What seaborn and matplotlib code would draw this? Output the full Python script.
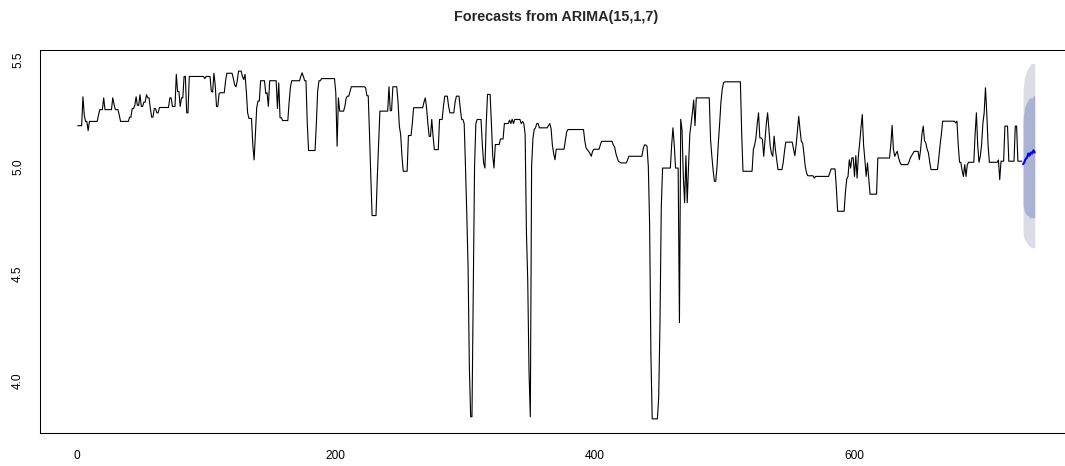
import numpy as np
import pandas as pd
import matplotlib
matplotlib.use("Agg")
import matplotlib.pyplot as plt
import seaborn as sns

# ---------------- data ----------------
title = "Forecasts from ARIMA(15,1,7)"

# observed series: value holds from each start index until the next one
seg_start = [1, 5, 6, 7, 9, 10, 17, 18, 21, 22, 28, 29, 30, 33, 34, 41, 43, 45, 46, 47,
             49, 50, 52, 54, 55, 57, 58, 60, 62, 64, 72, 74, 77, 78, 80, 81, 83, 85, 87, 99,
             100, 104, 105, 106, 107, 108, 110, 111, 115, 116, 121, 122, 123, 124, 125, 128, 129, 130, 131, 132,
             133, 136, 137, 138, 139, 140, 142, 146, 147, 148, 149, 155, 156, 157, 159, 164, 165, 166, 173, 174,
             175, 176, 178, 179, 185, 186, 187, 189, 200, 201, 202, 203, 207, 208, 209, 211, 212, 223, 224, 226,
             227, 228, 232, 233, 234, 241, 242, 244, 248, 249, 250, 251, 252, 256, 259, 260, 268, 269, 270, 271,
             272, 274, 275, 276, 280, 283, 284, 287, 288, 292, 293, 296, 297, 298, 299, 300, 301, 302, 303, 304,
             306, 307, 308, 309, 313, 314, 315, 316, 317, 320, 321, 322, 323, 327, 330, 334, 335, 336, 337, 338,
             343, 344, 345, 346, 347, 348, 349, 350, 351, 352, 353, 354, 355, 357, 364, 365, 366, 367, 368, 369,
             370, 377, 378, 379, 392, 393, 394, 395, 396, 397, 398, 399, 404, 405, 414, 415, 416, 417, 418, 419,
             420, 425, 426, 437, 438, 440, 441, 442, 443, 444, 449, 450, 451, 452, 459, 460, 461, 462, 465, 466,
             467, 468, 469, 470, 471, 472, 473, 474, 475, 476, 477, 478, 489, 490, 491, 492, 494, 495, 496, 497,
             498, 499, 500, 513, 514, 522, 523, 524, 525, 526, 527, 529, 530, 531, 532, 533, 534, 535, 536, 537,
             538, 539, 540, 541, 545, 546, 547, 553, 554, 555, 556, 557, 558, 559, 560, 561, 562, 563, 564, 569,
             570, 581, 582, 586, 587, 593, 594, 595, 596, 597, 598, 600, 601, 602, 603, 604, 605, 606, 607, 608,
             609, 610, 611, 612, 618, 628, 629, 630, 631, 632, 633, 634, 635, 636, 642, 643, 644, 645, 646, 650,
             651, 652, 653, 654, 655, 656, 657, 658, 659, 665, 666, 667, 668, 678, 679, 680, 681, 683, 684, 685,
             686, 687, 688, 693, 694, 695, 696, 697, 698, 699, 700, 701, 702, 703, 704, 711, 712, 713, 716, 719,
             724, 726]
seg_value = [5.19, 5.325, 5.24, 5.21, 5.167, 5.21, 5.24, 5.265, 5.32, 5.265, 5.32, 5.29, 5.265, 5.24, 5.21, 5.23, 5.27, 5.285, 5.325, 5.285,
             5.335, 5.28, 5.30, 5.335, 5.32, 5.27, 5.23, 5.27, 5.25, 5.275, 5.32, 5.28, 5.43, 5.35, 5.28, 5.32, 5.42, 5.25, 5.42, 5.41,
             5.42, 5.35, 5.347, 5.435, 5.38, 5.28, 5.34, 5.344, 5.40, 5.435, 5.41, 5.38, 5.372, 5.40, 5.445, 5.42, 5.406, 5.43, 5.35, 5.25,
             5.224, 5.10, 5.03, 5.15, 5.274, 5.305, 5.40, 5.34, 5.344, 5.28, 5.40, 5.27, 5.39, 5.227, 5.214, 5.30, 5.37, 5.40, 5.42, 5.437,
             5.42, 5.40, 5.20, 5.074, 5.20, 5.35, 5.40, 5.41, 5.344, 5.094, 5.32, 5.258, 5.28, 5.32, 5.328, 5.35, 5.372, 5.367, 5.33, 5.15,
             4.95, 4.77, 4.95, 5.10, 5.258, 5.372, 5.26, 5.372, 5.30, 5.187, 5.149, 5.05, 4.977, 5.144, 5.20, 5.274, 5.30, 5.32, 5.274, 5.20,
             5.14, 5.219, 5.14, 5.078, 5.219, 5.28, 5.328, 5.28, 5.25, 5.30, 5.328, 5.27, 5.22, 5.219, 5.20, 5.00, 4.78, 4.53, 4.06, 3.83,
             4.41, 5.00, 5.20, 5.219, 5.10, 5.016, 4.992, 5.20, 5.336, 5.20, 5.05, 4.992, 5.102, 5.128, 5.20, 5.216, 5.20, 5.22, 5.20, 5.219,
             5.20, 5.21, 5.20, 5.15, 4.69, 4.47, 4.04, 3.83, 5.00, 5.13, 5.172, 5.18, 5.20, 5.18, 5.19, 5.20, 5.177, 5.10, 5.06, 5.031,
             5.08, 5.12, 5.16, 5.172, 5.12, 5.086, 5.078, 5.07, 5.06, 5.047, 5.07, 5.08, 5.10, 5.117, 5.10, 5.091, 5.06, 5.04, 5.023, 5.02,
             5.016, 5.03, 5.047, 5.08, 5.10, 5.094, 5.00, 4.73, 4.12, 3.82, 3.92, 4.27, 4.81, 4.992, 5.10, 5.18, 5.10, 4.992, 4.27, 5.22,
             5.17, 4.95, 4.83, 5.05, 4.83, 5.00, 5.15, 5.20, 5.25, 5.31, 5.19, 5.32, 5.125, 5.047, 4.98, 4.93, 5.00, 5.109, 5.20, 5.30,
             5.36, 5.391, 5.395, 5.156, 4.977, 5.078, 5.10, 5.133, 5.20, 5.25, 5.133, 5.125, 5.047, 5.125, 5.20, 5.25, 5.172, 5.094, 5.06, 5.047,
             5.141, 5.078, 5.03, 4.985, 5.016, 5.07, 5.113, 5.08, 5.05, 5.10, 5.17, 5.234, 5.17, 5.117, 5.109, 5.06, 5.00, 4.97, 4.956, 4.945,
             4.953, 4.97, 4.988, 4.90, 4.79, 4.88, 4.94, 4.953, 5.031, 4.992, 5.04, 4.953, 5.05, 4.945, 5.05, 5.109, 5.18, 5.242, 5.10, 5.031,
             4.953, 5.016, 4.945, 4.87, 5.039, 5.10, 5.191, 5.08, 5.047, 5.06, 5.07, 5.04, 5.02, 5.008, 5.02, 5.039, 5.05, 5.06, 5.07, 5.031,
             5.08, 5.15, 5.188, 5.12, 5.109, 5.08, 5.063, 5.02, 4.985, 5.039, 5.10, 5.15, 5.211, 5.203, 5.211, 5.10, 5.019, 4.98, 4.953, 5.008,
             4.953, 5.008, 5.019, 5.15, 5.25, 5.10, 5.019, 5.047, 5.10, 5.20, 5.25, 5.367, 5.25, 5.10, 5.019, 5.03, 4.938, 5.024, 5.188, 5.024,
             5.188, 5.024]
n_obs = 729

# forecast horizon
fc_time = [730, 731, 732, 733, 734, 735, 736, 737, 738, 739]
fc_mean = [5.01, 5.02, 5.035, 5.04, 5.06, 5.05, 5.065, 5.06, 5.075, 5.065]
lo80 = [4.82, 4.79, 4.78, 4.77, 4.77, 4.76, 4.76, 4.76, 4.76, 4.76]
hi80 = [5.22, 5.27, 5.29, 5.30, 5.31, 5.32, 5.32, 5.32, 5.33, 5.33]
lo95 = [4.68, 4.66, 4.65, 4.64, 4.63, 4.63, 4.62, 4.62, 4.62, 4.62]
hi95 = [5.36, 5.41, 5.43, 5.45, 5.46, 5.47, 5.48, 5.48, 5.48, 5.48]

x_ticks = [0, 200, 400, 600]
y_ticks = [4.0, 4.5, 5.0, 5.5]
y_tick_labels = ["4.0", "4.5", "5.0", "5.5"]

# ---------------- build frames ----------------
lengths = np.diff(seg_start + [n_obs + 1])
obs = pd.DataFrame({"t": np.arange(1, n_obs + 1),
                    "value": np.repeat(seg_value, lengths)})
fc = pd.DataFrame({"t": fc_time, "mean": fc_mean,
                   "lo80": lo80, "hi80": hi80, "lo95": lo95, "hi95": hi95})

# ---------------- style ----------------
sns.set_style("white")
plt.rcParams["font.family"] = ["Liberation Sans", "DejaVu Sans"]

W, H = 1065, 466
fig = plt.figure(figsize=(W / 100, H / 100), dpi=100)
left, right, top, bottom = 39.5, 1073.0, 49.5, 433.0
ax = fig.add_axes([left / W, (H - bottom) / H, (right - left) / W, (bottom - top) / H])

ax.fill_between(fc["t"], fc["lo95"], fc["hi95"], color="#DCDCE5", linewidth=0)
ax.fill_between(fc["t"], fc["lo80"], fc["hi80"], color="#ACB2D4", linewidth=0)
sns.lineplot(data=obs, x="t", y="value", ax=ax, color="black", linewidth=0.8,
             estimator=None, sort=False)
sns.lineplot(data=fc, x="t", y="mean", ax=ax, color="#0000FF", linewidth=1.5,
             estimator=None, sort=False)

ax.set_xlim(-28.5, 768.5)
ax.set_ylim(3.754, 5.546)
ax.set_xticks(x_ticks)
ax.set_xticklabels([str(v) for v in x_ticks])
ax.set_yticks(y_ticks)
ax.set_yticklabels(y_tick_labels, rotation=90, va="center")
ax.set_xlabel("")
ax.set_ylabel("")
ax.tick_params(axis="both", direction="out", length=5, width=0.75,
               colors="black", labelsize=8.6)
ax.tick_params(axis="x", pad=7)
ax.tick_params(axis="y", pad=6)
for s in ax.spines.values():
    s.set_visible(True)
    s.set_color("black")
    s.set_linewidth(0.75)
ax.grid(False)

fig.text((left + right) / 2 / W, 1 - 17 / H, title, ha="center", va="center",
         fontweight="bold", fontsize=10.4)

fig.savefig("out.png", dpi=100)
